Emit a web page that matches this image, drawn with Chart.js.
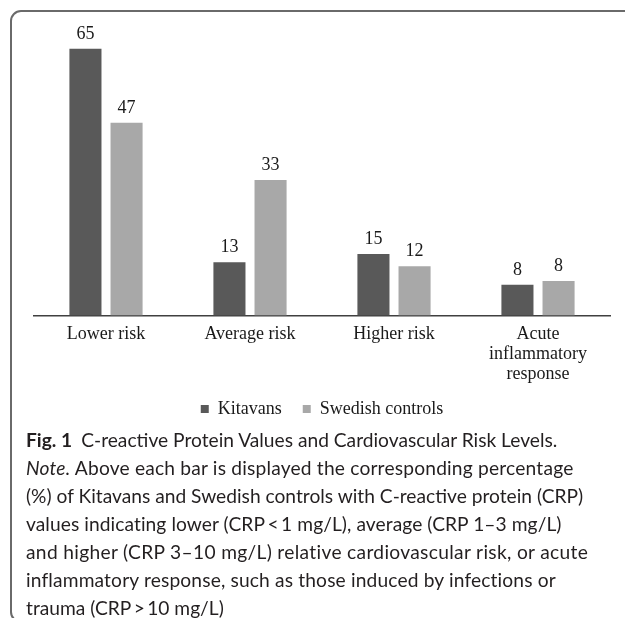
<!DOCTYPE html>
<html>
<head>
<meta charset="utf-8">
<script src="https://cdn.jsdelivr.net/npm/chart.js@4.4.1/dist/chart.umd.min.js"></script>
<style>
  html, body { margin: 0; padding: 0; background: #fff; width: 625px; height: 618px; overflow: hidden; }
  #frame { position: absolute; left: 10px; top: 10px; width: 660px; height: 613px; border: 2px solid #6a6a6a; border-radius: 11px; box-sizing: border-box; }
  #wrap { position: absolute; left: 0; top: 0; width: 625px; height: 442px; }
  #caption { position: absolute; left: 26px; top: 426px; font-family: Lato, "Open Sans", sans-serif; font-size: 19.2px; line-height: 28px; color: #231f20; white-space: nowrap; }
  #caption div { height: 28px; }
  #caption b { font-weight: 700; margin-right: 9px; }
</style>
</head>
<body>
<div id="frame"></div>
<div id="wrap"><canvas id="c" width="625" height="442"></canvas></div>
<div id="caption">
<div><b>Fig. 1</b>C-reactive Protein Values and Cardiovascular Risk Levels.</div>
<div style="letter-spacing:0.19px"><i>Note.</i> Above each bar is displayed the corresponding percentage</div>
<div>(%) of Kitavans and Swedish controls with C-reactive protein (CRP)</div>
<div style="letter-spacing:0.07px">values indicating lower (CRP&thinsp;&lt;&thinsp;1 mg/L), average (CRP 1–3 mg/L)</div>
<div style="letter-spacing:0.32px">and higher (CRP 3–10 mg/L) relative cardiovascular risk, or acute</div>
<div style="letter-spacing:0.15px">inflammatory response, such as those induced by infections or</div>
<div>trauma (CRP&thinsp;&gt;&thinsp;10 mg/L)</div>
</div>
<script>
const categories = ['Lower risk', 'Average risk', 'Higher risk', ['Acute', 'inflammatory', 'response']];
const seriesNames = ['Kitavans', 'Swedish controls'];
const kitavans = [65, 13, 15, 7.5];
const swedish = [47, 33, 12, 8.4];
const kitavansLabels = ['65', '13', '15', '8'];
const swedishLabels = ['47', '33', '12', '8'];

const valueLabelPlugin = {
  id: 'valueLabels',
  afterDatasetsDraw(chart) {
    const ctx = chart.ctx;
    const labelSets = [kitavansLabels, swedishLabels];
    ctx.save();
    ctx.font = '18px "Liberation Serif", "Times New Roman", serif';
    ctx.fillStyle = '#1a1a1a';
    ctx.textAlign = 'center';
    ctx.textBaseline = 'alphabetic';
    chart.data.datasets.forEach((ds, di) => {
      const meta = chart.getDatasetMeta(di);
      meta.data.forEach((el, i) => {
        ctx.fillText(labelSets[di][i], el.x, el.y - 10);
      });
    });
    ctx.restore();
  }
};

// Pull the legend a little closer to the category labels
const legendNudge = {
  id: 'legendNudge',
  afterLayout(chart) {
    const lg = chart.legend;
    if (lg) { lg.top -= 14; lg.bottom -= 14; }
  }
};

new Chart(document.getElementById('c'), {
  type: 'bar',
  data: {
    labels: categories,
    datasets: [
      { label: seriesNames[0], data: kitavans, backgroundColor: '#595959', borderWidth: 0 },
      { label: seriesNames[1], data: swedish, backgroundColor: '#a8a8a8', borderWidth: 0 }
    ]
  },
  options: {
    responsive: false,
    animation: false,
    events: [],
    layout: { padding: { left: 34, right: 15, top: 20, bottom: 0 } },
    datasets: { bar: { categoryPercentage: 0.571, barPercentage: 0.78 } },
    scales: {
      x: {
        grid: { display: false, drawTicks: false },
        border: { display: true, color: '#404040', width: 1.5 },
        ticks: {
          color: '#1a1a1a',
          padding: 9,
          autoSkip: false,
          maxRotation: 0,
          font: { family: '"Liberation Serif", "Times New Roman", serif', size: 18, lineHeight: 1.1 }
        }
      },
      y: { display: false, min: 0, max: 72 }
    },
    plugins: {
      legend: {
        position: 'bottom',
        labels: {
          boxWidth: 8,
          boxHeight: 8,
          padding: 21,
          color: '#1a1a1a',
          font: { family: '"Liberation Serif", "Times New Roman", serif', size: 18 }
        }
      },
      tooltip: { enabled: false }
    }
  },
  plugins: [valueLabelPlugin, legendNudge]
});
</script>
</body>
</html>
